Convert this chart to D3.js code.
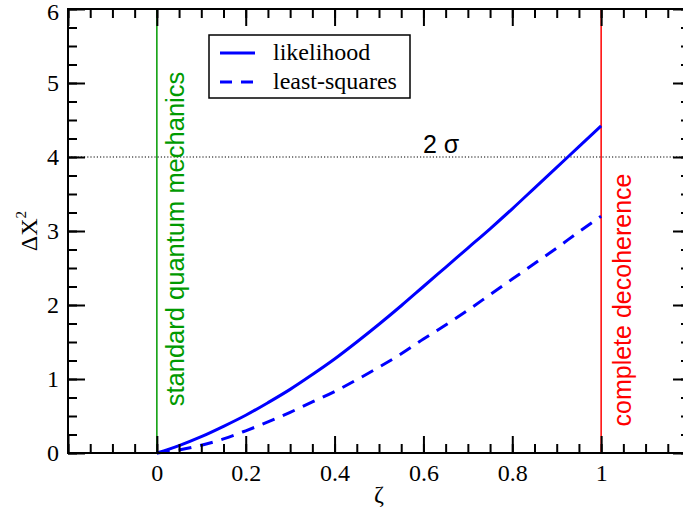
<!DOCTYPE html>
<html>
<head>
<meta charset="utf-8">
<script src="https://cdn.jsdelivr.net/npm/d3@7"></script>
<style>
  html, body { margin: 0; padding: 0; background: #fff; }
  svg { display: block; }
</style>
</head>
<body>
<svg id="chart" width="683" height="512"></svg>
<script>
// ---- data ----
const zeta = [0, 0.05, 0.1, 0.15, 0.2, 0.25, 0.3, 0.35, 0.4, 0.45, 0.5,
              0.55, 0.6, 0.65, 0.7, 0.75, 0.8, 0.85, 0.9, 0.95, 1.0];
const likelihood = [0, 0.10, 0.22, 0.36, 0.51, 0.68, 0.86, 1.06, 1.27, 1.50, 1.74,
                    1.99, 2.25, 2.51, 2.77, 3.03, 3.30, 3.58, 3.86, 4.14, 4.42];
const leastSquares = [0, 0.04, 0.105, 0.19, 0.30, 0.42, 0.55, 0.69, 0.83, 0.99, 1.16,
                      1.34, 1.54, 1.73, 1.93, 2.14, 2.35, 2.56, 2.77, 2.99, 3.20];
const xMajorTicks = [-0.2, 0, 0.2, 0.4, 0.6, 0.8, 1.0, 1.2];
const xTickLabels = ["", "0", "0.2", "0.4", "0.6", "0.8", "1", ""];
const yMajorTicks = [0, 1, 2, 3, 4, 5, 6];
const yTickLabels = ["0", "1", "2", "3", "4", "5", "6"];
const seriesNames = ["likelihood", "least-squares"];
const sigmaLevel = 4;
const sigmaLabel = "2 σ";
const sqmLabel = "standard quantum mechanics";
const decoLabel = "complete decoherence";

// ---- layout ----
const svg = d3.select("#chart");
const L = 68, T = 9, R = 690, B = 453;
const x = d3.scaleLinear().domain([-0.2, 1.2]).range([L, R]);
const y = d3.scaleLinear().domain([0, 6]).range([B, T]);

const serif = "'Liberation Serif', 'Times New Roman', serif";
const sans = "'Liberation Sans', Arial, sans-serif";

// vertical reference lines
svg.append("line").attr("x1", x(0)).attr("x2", x(0)).attr("y1", y(6)).attr("y2", y(0))
  .attr("stroke", "#009a00").attr("stroke-width", 1.5);
svg.append("line").attr("x1", x(1)).attr("x2", x(1)).attr("y1", y(6)).attr("y2", y(0))
  .attr("stroke", "#ff0000").attr("stroke-width", 1.5);

// 2 sigma dotted line
svg.append("line").attr("x1", L).attr("x2", R).attr("y1", y(sigmaLevel)).attr("y2", y(sigmaLevel))
  .attr("stroke", "#000").attr("stroke-width", 1.2).attr("stroke-dasharray", "1.2,2");
svg.append("text").attr("x", 423).attr("y", y(sigmaLevel) - 4)
  .attr("font-family", sans).attr("font-size", 25).attr("fill", "#000").text(sigmaLabel);

// vertical text labels
svg.append("text")
  .attr("transform", `translate(${x(0) + 27},${239}) rotate(-90)`)
  .attr("text-anchor", "middle").attr("font-family", sans).attr("font-size", 25.5)
  .attr("fill", "#009a00").text(sqmLabel);
svg.append("text")
  .attr("transform", `translate(${x(1) + 30},${300}) rotate(-90)`)
  .attr("text-anchor", "middle").attr("font-family", sans).attr("font-size", 25)
  .attr("fill", "#ff0000").text(decoLabel);

// curves
const pts = (vals) => zeta.map((z, i) => [z, vals[i]]);
const line = d3.line().x(d => x(d[0])).y(d => y(d[1])).curve(d3.curveMonotoneX);
svg.append("path").attr("d", line(pts(likelihood))).attr("fill", "none")
  .attr("stroke", "#0000ff").attr("stroke-width", 3);
svg.append("path").attr("d", line(pts(leastSquares))).attr("fill", "none")
  .attr("stroke", "#0000ff").attr("stroke-width", 3).attr("stroke-dasharray", "13,9");

// axes (ticks inward)
const xMinor = d3.range(-0.2, 1.2001, 0.05).map(v => +v.toFixed(2));
const yMinor = d3.range(0, 6.001, 0.25).map(v => +v.toFixed(2));
const fmtX = (d) => xTickLabels[xMajorTicks.findIndex(t => Math.abs(t - d) < 1e-9)];
const fmtY = (d) => yTickLabels[yMajorTicks.findIndex(t => Math.abs(t - d) < 1e-9)];

function styleAxis(g) {
  g.attr("font-family", serif).attr("font-size", 24);
  g.select(".domain").remove();
  g.selectAll(".tick line").attr("stroke", "#000").attr("stroke-width", 2);
  g.selectAll(".tick text").attr("font-family", serif).attr("font-size", 24).attr("fill", "#000");
}

// bottom
svg.append("g").attr("transform", `translate(0,${B})`)
  .call(d3.axisBottom(x).tickValues(xMinor).tickSize(-9).tickFormat("")).call(styleAxis);
svg.append("g").attr("transform", `translate(0,${B})`)
  .call(d3.axisBottom(x).tickValues(xMajorTicks).tickSizeInner(-17).tickSizeOuter(0).tickPadding(11).tickFormat(fmtX))
  .call(styleAxis);
// top
svg.append("g").attr("transform", `translate(0,${T})`)
  .call(d3.axisTop(x).tickValues(xMinor).tickSize(-9).tickFormat("")).call(styleAxis);
svg.append("g").attr("transform", `translate(0,${T})`)
  .call(d3.axisTop(x).tickValues(xMajorTicks).tickSize(-17).tickFormat("")).call(styleAxis);
// left
svg.append("g").attr("transform", `translate(${L},0)`)
  .call(d3.axisLeft(y).tickValues(yMinor).tickSize(-9).tickFormat("")).call(styleAxis);
const yAx = svg.append("g").attr("transform", `translate(${L},0)`)
  .call(d3.axisLeft(y).tickValues(yMajorTicks).tickSizeInner(-17).tickSizeOuter(0).tickPadding(9).tickFormat(fmtY))
  .call(styleAxis);
// keep the top label inside the page
yAx.selectAll(".tick text").filter(d => d === 6).attr("dy", "0.42em");
// right
svg.append("g").attr("transform", `translate(${R},0)`)
  .call(d3.axisRight(y).tickValues(yMinor).tickSize(-9).tickFormat("")).call(styleAxis);
svg.append("g").attr("transform", `translate(${R},0)`)
  .call(d3.axisRight(y).tickValues(yMajorTicks).tickSize(-17).tickFormat("")).call(styleAxis);

// frame
svg.append("rect").attr("x", L).attr("y", T).attr("width", R - L).attr("height", B - T)
  .attr("fill", "none").attr("stroke", "#000").attr("stroke-width", 2);

// axis titles
const yl = svg.append("text")
  .attr("transform", `translate(37,231) rotate(-90)`)
  .attr("text-anchor", "middle").attr("font-family", serif).attr("font-size", 24).attr("fill", "#000");
yl.append("tspan").text("ΔX");
yl.append("tspan").attr("font-size", 15).attr("dy", -11).text("2");

svg.append("text").attr("x", (L + R) / 2).attr("y", 502).attr("text-anchor", "middle")
  .attr("font-family", serif).attr("font-size", 24).attr("fill", "#000").text("ζ");

// legend
const lg = svg.append("g");
lg.append("rect").attr("x", 209).attr("y", 35).attr("width", 201).attr("height", 63)
  .attr("fill", "#fff").attr("stroke", "#000").attr("stroke-width", 1.5);
const legendY = [53, 82];
seriesNames.forEach((name, i) => {
  lg.append("line").attr("x1", 220).attr("x2", 255).attr("y1", legendY[i]).attr("y2", legendY[i])
    .attr("stroke", "#0000ff").attr("stroke-width", 3)
    .attr("stroke-dasharray", i === 1 ? "12,9" : null);
  lg.append("text").attr("x", 273).attr("y", legendY[i] + 7).attr("font-family", serif)
    .attr("font-size", 24).attr("fill", "#000").text(name);
});
</script>
</body>
</html>
